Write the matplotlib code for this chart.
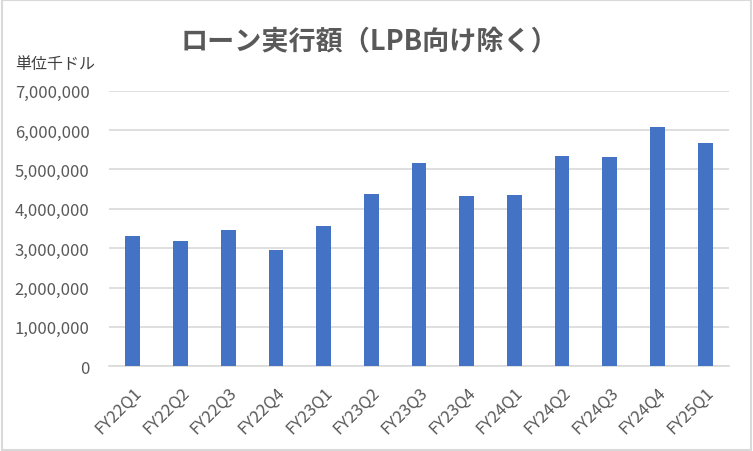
import matplotlib.pyplot as plt
from matplotlib.patches import Rectangle
from matplotlib.ticker import FuncFormatter, MultipleLocator

plt.rcParams['font.family'] = ['Noto Sans CJK JP', 'DejaVu Sans']

# ローン実行額（単位千ドル）
quarters = ['FY22Q1', 'FY22Q2', 'FY22Q3', 'FY22Q4', 'FY23Q1', 'FY23Q2', 'FY23Q3',
            'FY23Q4', 'FY24Q1', 'FY24Q2', 'FY24Q3', 'FY24Q4', 'FY25Q1']
amounts = [3310000, 3180000, 3460000, 2955000, 3560000, 4380000, 5165000,
           4330000, 4350000, 5340000, 5320000, 6080000, 5670000]

fig = plt.figure(figsize=(7.53, 4.52), dpi=100)
ax = fig.add_axes([109 / 753, 1 - 367.3 / 452, 620 / 753, (367.3 - 91.7) / 452])

ax.bar(range(len(quarters)), amounts, width=0.31, color='#4472C4', zorder=3)

ax.set_xlim(-0.5, len(quarters) - 0.5)
ax.set_ylim(0, 7000000)
ax.yaxis.set_major_locator(MultipleLocator(1000000))
ax.yaxis.set_major_formatter(FuncFormatter(lambda v, p: f'{int(v):,}'))
ax.grid(axis='y', color='#D9D9D9', linewidth=1.2, zorder=0)

ax.set_xticks(range(len(quarters)))
ax.set_xticklabels(quarters, rotation=45, ha='right', rotation_mode='anchor')

for s in ['top', 'right', 'left']:
    ax.spines[s].set_visible(False)
ax.spines['bottom'].set_color('#D9D9D9')
ax.spines['bottom'].set_linewidth(1.2)
ax.tick_params(axis='both', length=0, colors='#595959', labelsize=12)
ax.tick_params(axis='y', pad=14)
ax.tick_params(axis='x', pad=12)

fig.text(369 / 753, 1 - 42 / 452, 'ローン実行額（LPB向け除く）', ha='center', va='center',
         fontsize=19.5, fontweight='bold', color='#595959')
fig.text(15 / 753, 1 - 65 / 452, '単位千ドル', ha='left', va='center',
         fontsize=11.5, color='#404040')

# 外枠
fig.patches.append(Rectangle((0.002, 0.003), 0.995, 0.994, transform=fig.transFigure,
                             fill=False, edgecolor='#D9D9D9', linewidth=1.5))

fig.savefig('out.png', dpi=100, facecolor='white')
